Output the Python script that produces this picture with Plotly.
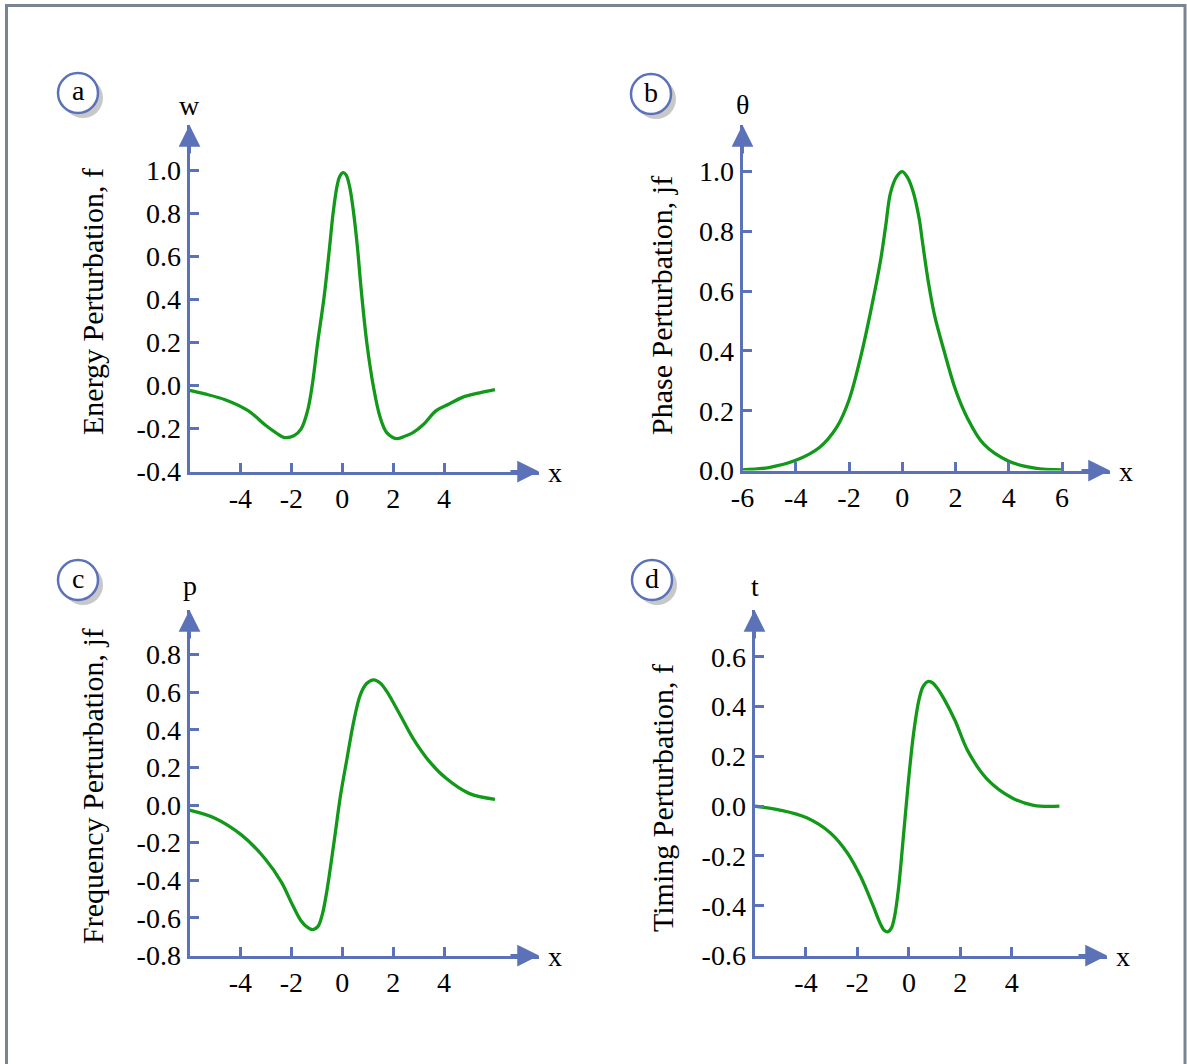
import plotly.graph_objects as go

W, H = 1187, 1064
AXC = "#5b72b8"
GREEN = "#13991a"
FONT = "Liberation Serif"
FS = 28
FS_T = 30

# ---------------- data ----------------
# (a) energy perturbation w
xa = [-6.0, -5.4, -4.6, -3.7, -3.0, -2.6, -2.27, -1.9, -1.62, -1.36, -1.17, -0.97, -0.71,
      -0.52, -0.35, -0.2, -0.1, 0.03, 0.15, 0.3, 0.45, 0.6, 0.75, 0.97, 1.23, 1.49, 1.75,
      2.14, 2.5, 2.78, 3.2, 3.69, 4.2, 4.72, 5.4, 6.0]
wa = [-0.023, -0.039, -0.066, -0.117, -0.186, -0.22, -0.242, -0.234, -0.203, -0.117, 0.008,
      0.195, 0.414, 0.617, 0.81, 0.93, 0.972, 0.99, 0.98, 0.92, 0.80, 0.64, 0.44, 0.195,
      -0.008, -0.148, -0.219, -0.247, -0.234, -0.219, -0.18, -0.117, -0.086, -0.055,
      -0.034, -0.019]

# (b) phase perturbation theta
xb = [-6.0, -5.01, -4.0, -3.11, -2.46, -2.0, -1.56, -1.19, -0.81, -0.625, -0.44, -0.2, 0.0,
      0.2, 0.4, 0.64, 0.75, 0.98, 1.21, 1.56, 2.0, 2.42, 3.06, 4.0, 4.98, 6.0]
thb = [0.002, 0.01, 0.034, 0.077, 0.145, 0.236, 0.381, 0.531, 0.706, 0.817, 0.93, 0.985, 1.0,
       0.98, 0.935, 0.84, 0.77, 0.63, 0.52, 0.403, 0.27, 0.18, 0.088, 0.031, 0.008, 0.002]

# (c) frequency perturbation p
xc = [-6.0, -4.98, -3.95, -3.04, -2.39, -2.01, -1.62, -1.35, -1.15, -0.95, -0.78, -0.62,
      -0.32, -0.065, 0.19, 0.45, 0.71, 0.95, 1.23, 1.5, 1.75, 2.27, 2.78, 3.43, 4.08, 4.98,
      6.0]
pc = [-0.027, -0.071, -0.16, -0.284, -0.41, -0.515, -0.615, -0.652, -0.662, -0.645, -0.58,
      -0.47, -0.195, 0.053, 0.249, 0.444, 0.586, 0.645, 0.666, 0.648, 0.604, 0.48, 0.355,
      0.231, 0.142, 0.062, 0.03]

# (d) timing perturbation t
xd = [-6.0, -5.01, -3.97, -3.06, -2.39, -1.88, -1.38, -1.12, -0.95, -0.82, -0.68, -0.55,
      -0.40, -0.21, -0.02, 0.18, 0.39, 0.55, 0.72, 0.9, 1.1, 1.37, 1.79, 2.30, 3.03, 4.0,
      4.85, 5.85]
td = [0.0, -0.016, -0.047, -0.107, -0.188, -0.282, -0.403, -0.47, -0.5, -0.505, -0.49,
      -0.44, -0.328, -0.118, 0.097, 0.29, 0.426, 0.48, 0.5, 0.497, 0.475, 0.43, 0.345, 0.22,
      0.11, 0.034, 0.003, 0.0]

xticks_a = [-4, -2, 0, 2, 4]
xticks_b = [-6, -4, -2, 0, 2, 4, 6]
yticks_a = [-0.4, -0.2, 0.0, 0.2, 0.4, 0.6, 0.8, 1.0]
yticks_b = [0.0, 0.2, 0.4, 0.6, 0.8, 1.0]
yticks_c = [-0.8, -0.6, -0.4, -0.2, 0.0, 0.2, 0.4, 0.6, 0.8]
yticks_d = [-0.6, -0.4, -0.2, 0.0, 0.2, 0.4, 0.6]

labels = ["a", "b", "c", "d"]
var_names = ["w", "θ", "p", "t"]
y_titles = ["Energy Perturbation, f", "Phase Perturbation, jf",
            "Frequency Perturbation, jf", "Timing Perturbation, f"]


def fmt(v):
    s = f"{abs(v):.1f}"
    return ("-" + s) if v < 0 else s


def fx(p):
    return p / W


def fy(p):
    return 1 - p / H


panels = [
    dict(x=xa, y=wa, xt=xticks_a, yt=yticks_a, xdom=(189.5, 539), ydom=(471.5, 125),
         xr=(-6, 7.73), yr=(-0.4, 1.212), circ=(78, 93), title=(92, 302), vshift=19),
    dict(x=xb, y=thb, xt=xticks_b, yt=yticks_b, xdom=(742.5, 1110), ydom=(470.5, 125),
         xr=(-6, 7.80), yr=(0.0, 1.156), circ=(651, 94), title=(661, 306), vshift=20),
    dict(x=xc, y=pc, xt=xticks_a, yt=yticks_c, xdom=(189.5, 539), ydom=(955.5, 610),
         xr=(-6, 7.73), yr=(-0.8, 1.037), circ=(78, 580), title=(92, 786), vshift=25),
    dict(x=xd, y=td, xt=xticks_a, yt=yticks_d, xdom=(754.5, 1107), ydom=(955.5, 610),
         xr=(-6, 7.70), yr=(-0.6, 0.788), circ=(652, 580), title=(662, 798), vshift=24),
]

shapes = []
annotations = []
layout_axes = {}
traces = []

for i, p in enumerate(panels):
    n = "" if i == 0 else str(i + 1)
    xname, yname = "x" + n, "y" + n
    traces.append(go.Scatter(x=p["x"], y=p["y"], mode="lines", xaxis=xname, yaxis=yname,
                             line=dict(color=GREEN, width=3.3, shape="spline", smoothing=1.0),
                             showlegend=False, hoverinfo="skip"))
    common = dict(showline=True, linecolor=AXC, linewidth=3, ticks="inside", ticklen=9,
                  tickwidth=3, tickcolor=AXC, showgrid=False, zeroline=False, automargin=False,
                  tickfont=dict(family=FONT, size=FS, color="black"), fixedrange=True)
    layout_axes["xaxis" + n] = dict(
        domain=[fx(p["xdom"][0]), fx(p["xdom"][1])], range=list(p["xr"]), anchor=yname,
        tickvals=p["xt"], ticktext=[str(v) if v >= 0 else "-" + str(abs(v)) for v in p["xt"]],
        **common)
    layout_axes["yaxis" + n] = dict(
        domain=[fy(p["ydom"][0]), fy(p["ydom"][1])], range=list(p["yr"]), anchor=xname,
        tickvals=p["yt"], ticktext=[fmt(v) for v in p["yt"]], **common)

    # arrow heads
    annotations.append(dict(x=p["xr"][1], y=p["yr"][0], xref=xname, yref=yname,
                            ax=-30, ay=0, showarrow=True, arrowhead=2, arrowsize=1.45,
                            arrowwidth=3, arrowcolor=AXC, text=""))
    annotations.append(dict(x=p["xr"][0], y=p["yr"][1], xref=xname, yref=yname,
                            ax=0, ay=30, showarrow=True, arrowhead=2, arrowsize=1.45,
                            arrowwidth=3, arrowcolor=AXC, text=""))
    # variable names
    annotations.append(dict(x=p["xr"][0], y=p["yr"][1], xref=xname, yref=yname,
                            text=var_names[i], showarrow=False, xanchor="center",
                            yanchor="middle", yshift=p["vshift"],
                            font=dict(family=FONT, size=FS, color="black")))
    annotations.append(dict(x=p["xr"][1], y=p["yr"][0], xref=xname, yref=yname,
                            text="x", showarrow=False, xanchor="center", yanchor="middle",
                            xshift=16, yshift=-1,
                            font=dict(family=FONT, size=FS, color="black")))
    # y titles
    tx, ty = p["title"]
    annotations.append(dict(x=fx(tx), y=fy(ty), xref="paper", yref="paper",
                            xanchor="center", yanchor="middle",
                            text=y_titles[i], textangle=-90, showarrow=False,
                            font=dict(family=FONT, size=FS_T, color="black")))
    # circled labels
    cx, cy = p["circ"]
    r = 20
    shapes.append(dict(type="circle", xref="paper", yref="paper",
                       x0=fx(cx - r + 5), x1=fx(cx + r + 5), y0=fy(cy + r + 5), y1=fy(cy - r + 5),
                       fillcolor="#c8c8c8", line=dict(width=0), layer="below"))
    shapes.append(dict(type="circle", xref="paper", yref="paper",
                       x0=fx(cx - r), x1=fx(cx + r), y0=fy(cy + r), y1=fy(cy - r),
                       fillcolor="white", line=dict(color=AXC, width=2.5), layer="below"))
    annotations.append(dict(x=fx(cx), y=fy(cy), xref="paper", yref="paper",
                            xanchor="center", yanchor="middle", yshift=2,
                            text=labels[i], showarrow=False,
                            font=dict(family=FONT, size=FS, color="black")))

# frame
shapes.append(dict(type="rect", xref="paper", yref="paper", x0=fx(6.5), x1=fx(1185),
                   y0=-0.1, y1=fy(5.5), line=dict(color="#7a8591", width=3), layer="below"))

fig = go.Figure(data=traces)
fig.update_layout(width=W, height=H,
                  margin=dict(l=0, r=0, t=0, b=0, pad=0, autoexpand=False),
                  paper_bgcolor="white", plot_bgcolor="rgba(0,0,0,0)",
                  shapes=shapes, annotations=annotations, showlegend=False,
                  font=dict(family=FONT, size=FS, color="black"), **layout_axes)
fig.write_html("out.html")
